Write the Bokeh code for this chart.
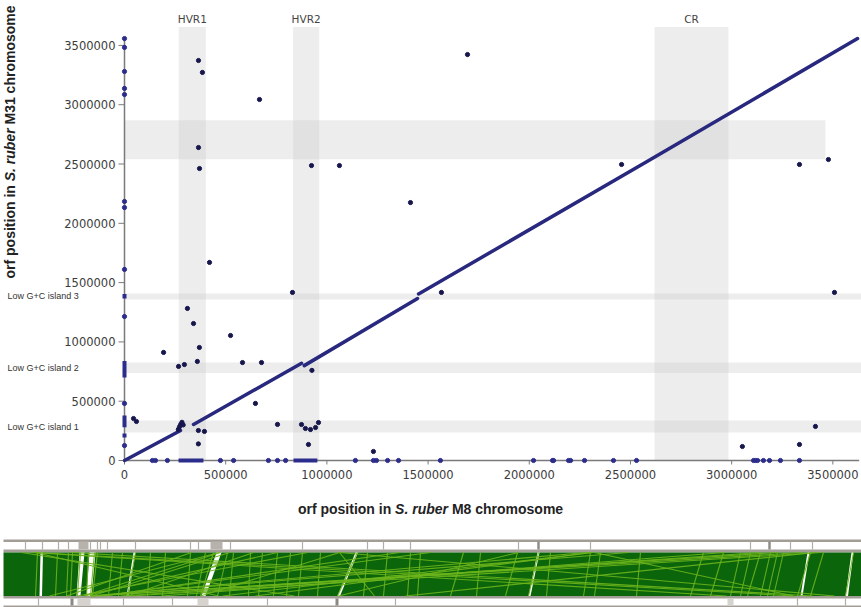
from bokeh.plotting import figure
from bokeh.models import Range1d, Label
from bokeh.core.properties import value
from bokeh.layouts import column
from bokeh.embed import file_html
from bokeh.resources import INLINE

# ---------------- dot plot data ----------------
tick_values = [0, 500000, 1000000, 1500000, 2000000, 2500000, 3000000, 3500000]
tick_labels = ["0", "500000", "1000000", "1500000", "2000000", "2500000", "3000000", "3500000"]
x_axis_end = 3630000
y_axis_end = 3560000

# collinear ORFs (main diagonal), runs
diag_xs = [[0, 277000], [341000, 875000], [888000, 1448000], [1453000, 2599000, 3622000]]
diag_ys = [[0, 253000], [304000, 820000], [800000, 1366000], [1404000, 2538000, 3558000]]

# off-diagonal ORF pairs
off_x = [365600, 385000, 667000, 365600, 370600, 1694800, 924000, 1062000, 1413000, 420000,
         830000, 1566000, 311000, 341000, 524000, 370000, 193000, 267000, 296000, 360000,
         583000, 677000, 647000, 756000, 44500, 59000, 365000, 395000, 365000, 909000,
         1230000, 2456000, 3335000, 3478000, 3508000, 3053000, 3335000, 3414000,
         266000, 272000, 278000, 284000, 290000,
         874600, 894000, 919000, 944000, 958500, 926000]
off_y = [3372800, 3272000, 3044000, 2639000, 2462000, 3423000, 2487000, 2487000, 2175000, 1670000,
         1417000, 1417000, 1282000, 1155000, 1054000, 953000, 911000, 793000, 809000, 835000,
         826000, 826000, 481000, 304000, 354000, 329000, 253000, 245000, 140000, 135000,
         76000, 2496000, 2496000, 2538000, 1417000, 118000, 135000, 287000,
         262000, 285000, 305000, 322000, 300000,
         303500, 270000, 261000, 278000, 320000, 760000]

# ORFs without partner plotted on the axes
xrow_x = [138000, 153000, 212000, 474000, 539000, 711000, 756000, 796000, 1141000, 1230000,
          1245000, 1300000, 1354000, 1561000, 2021000, 2115000, 2120000, 2194000, 2204000,
          2273000, 2416000, 2530000, 3108000, 3118000, 3128000, 3157000, 3187000, 3241000, 3335000]
xrow_runs_x0 = [267000, 835000]
xrow_runs_x1 = [390000, 953000]
ycol_y = [3558000, 3483000, 3280000, 3137000, 3086000, 2184000, 2133000, 1611000, 1214000,
          481000, 126000]
ycol_runs_y0 = [1366000, 700000, 280000, 194000]
ycol_runs_y1 = [1404000, 840000, 380000, 228000]

# shaded regions
vband_names = ["HVR1", "HVR2", "CR"]
vband_x0 = [268000, 833000, 2619000]
vband_x1 = [402000, 962000, 2984000]
vband_top = [3655000, 3655000, 3655000]
hband_names = ["", "Low G+C island 3", "Low G+C island 2", "Low G+C island 1"]
hband_y0 = [2540000, 1358000, 738000, 236000]
hband_y1 = [2870000, 1408000, 826000, 337000]
hband_x1 = [3463000, 3700000, 3700000, 3700000]

# ---------------- synteny strip data (strip positions) ----------------
strip_top_thin = [25, 42, 58, 68, 90, 97, 100, 107, 135, 190, 198, 230, 302, 367, 383, 410,
                  518, 590, 750, 790, 812]
strip_top_thick = [538, 769]
strip_top_block_x0 = [78, 210]
strip_top_block_x1 = [88, 222]
strip_bot_thin = [38, 123, 172, 267, 395, 797, 845]
strip_bot_thick = [71.5, 336.5]
strip_bot_block_x0 = [77, 197, 727]
strip_bot_block_x1 = [90, 208, 733]

gap_top_l = [40, 79, 89, 133, 216, 355, 537, 807, 851]
gap_top_r = [42.5, 84, 95, 135, 221, 357.5, 539, 809, 853]
gap_bot_l = [39, 76, 86, 126, 201, 337, 528, 800, 845]
gap_bot_r = [41.5, 80, 91, 128, 205, 339.5, 530, 802, 847.5]

link_top = [802, 778, 724, 628, 586, 814, 592, 592, 518, 399, 339, 307, 277, 253, 229, 219, 191,
            31, 35, 71, 339, 594, 339, 21, 35, 430, 220, 760, 820,
            37, 57, 68, 72, 80, 88, 94, 97, 112, 122, 135, 150, 165, 190, 205, 213, 227, 233,
            250, 262, 277, 290, 302, 320, 357, 367, 387, 410, 420, 463, 480, 517, 538, 550,
            590, 600, 640, 703, 723, 740, 750, 760, 770, 777, 783, 810, 823, 853]
link_bot = [90, 94, 161, 90, 91, 405, 222, 255, 338, 103, 200, 77, 84, 127, 91, 49, 66,
            726, 793, 812, 834, 793, 374, 294, 218, 100, 83, 120, 130,
            35, 55, 66, 70, 77, 86, 90, 92, 108, 118, 127, 147, 162, 187, 196, 200, 217, 229,
            248, 258, 273, 286, 298, 317, 337, 363, 383, 407, 417, 450, 476, 505, 528, 546,
            583, 594, 636, 690, 710, 730, 740, 747, 760, 767, 773, 797, 810, 845]

# ---------------- main dot plot ----------------
XU = 4941.0   # data units per pixel, x
YU = 8432.0   # data units per pixel, y
W, H1, H2 = 861, 539, 68

p = figure(width=W, height=H1, x_range=Range1d(-124 * XU, (W - 124) * XU),
           y_range=Range1d(-(H1 - 460) * YU, 460 * YU), output_backend="svg",
           toolbar_location=None, min_border=0, x_axis_location=None, y_axis_location=None)
p.outline_line_color = None
p.xgrid.grid_line_color = None
p.ygrid.grid_line_color = None

band_fill = "#c8c8c8"
p.quad(left=vband_x0, right=vband_x1, bottom=[0, 0, 0], top=vband_top,
       fill_color=band_fill, fill_alpha=0.32, line_color=None)
p.quad(left=[0, 0, 0, 0], right=hband_x1, bottom=hband_y0, top=hband_y1,
       fill_color=band_fill, fill_alpha=0.32, line_color=None)

# axes drawn from the tick lists
axis_col = "#7a7a7a"
p.segment(x0=[0, 0], y0=[0, 0], x1=[x_axis_end, 0], y1=[0, y_axis_end],
          line_color=axis_col, line_width=1.5)
p.segment(x0=tick_values, y0=[0] * len(tick_values), x1=tick_values,
          y1=[-4 * YU] * len(tick_values), line_color=axis_col, line_width=1)
p.segment(x0=[0] * len(tick_values), y0=tick_values, x1=[-6 * XU] * len(tick_values),
          y1=tick_values, line_color=axis_col, line_width=1)
p.text(x=tick_values, y=[-14 * YU] * len(tick_values), text=tick_labels, text_align="center",
       text_baseline="middle", text_font=value("DejaVu Sans"), text_font_size="11.5px",
       text_color="#3c3c3c")
p.text(x=[-9 * XU] * len(tick_values), y=tick_values, text=tick_labels, text_align="right",
       text_baseline="middle", text_font=value("DejaVu Sans"), text_font_size="11.5px",
       text_color="#3c3c3c")

p.multi_line(diag_xs, diag_ys, line_color="#28287e", line_width=3.5, line_cap="round")
p.segment(x0=xrow_runs_x0, y0=[0, 0], x1=xrow_runs_x1, y1=[0, 0],
          line_color="#2c2c8c", line_width=4)
p.segment(x0=[0, 0, 0, 0], y0=ycol_runs_y0, x1=[0, 0, 0, 0], y1=ycol_runs_y1,
          line_color="#2c2c8c", line_width=4)
p.scatter(xrow_x, [0] * len(xrow_x), size=4.2, color="#2c2c8c")
p.scatter([0] * len(ycol_y), ycol_y, size=4.2, color="#2c2c8c")
p.scatter(off_x, off_y, size=4.2, color="#16164c")

for name, a, b in zip(vband_names, vband_x0, vband_x1):
    p.add_layout(Label(x=(a + b) / 2, y=442 * YU, text=name, text_align="center",
                       text_baseline="middle", text_font="DejaVu Sans",
                       text_font_size="10.5px", text_color="#444444"))
for name, a, b in zip(hband_names, hband_y0, hband_y1):
    if name:
        p.add_layout(Label(x=-117 * XU, y=(a + b) / 2, text=name, text_align="left",
                           text_baseline="middle", text_font="Liberation Sans",
                           text_font_size="9px", text_color="#333333"))

# axis titles (mixed bold / bold italic)
title_font = "Liberation Sans"
for txt, px, style in [("orf position in", 297.4, "bold"), ("S. ruber", 394.6, "bold italic"),
                       ("M8 chromosome", 451.4, "bold")]:
    p.add_layout(Label(x=(px - 124) * XU, y=-48.5 * YU, text=txt, text_align="left",
                       text_baseline="middle", text_font=title_font, text_font_size="14px",
                       text_font_style=style, text_color="#222222"))
for txt, py, style in [("orf position in", 278.0, "bold"), ("S. ruber", 180.8, "bold italic"),
                       ("M31 chromosome", 124.0, "bold")]:
    p.add_layout(Label(x=-115 * XU, y=(460 - py) * YU, text=txt, angle=1.5707963,
                       text_align="left", text_baseline="middle", text_font=title_font,
                       text_font_size="14px", text_font_style=style, text_color="#222222"))

# ---------------- synteny strip ----------------
s = figure(width=W, height=H2, x_range=Range1d(0, W), y_range=Range1d(0, H2),
           output_backend="svg", toolbar_location=None, min_border=0,
           x_axis_location=None, y_axis_location=None)
s.outline_line_color = None
s.xgrid.grid_line_color = None
s.ygrid.grid_line_color = None

gray = "#a39d97"
s.quad(left=[3] * 4, right=[861] * 4, bottom=[65.5, 55, 9, 0], top=[68.5, 58, 11.5, 2],
       fill_color=gray, line_color=None)
s.segment(x0=strip_top_thin, y0=[58] * len(strip_top_thin), x1=strip_top_thin,
          y1=[66] * len(strip_top_thin), line_color="#b3ada7", line_width=1.2)
s.segment(x0=strip_top_thick, y0=[58] * 2, x1=strip_top_thick, y1=[66] * 2,
          line_color="#928c86", line_width=2.5)
s.quad(left=strip_top_block_x0, right=strip_top_block_x1, bottom=[58] * 2, top=[66] * 2,
       fill_color="#b8b2ac", line_color=None)
s.segment(x0=strip_bot_thin, y0=[2] * len(strip_bot_thin), x1=strip_bot_thin,
          y1=[9] * len(strip_bot_thin), line_color="#b3ada7", line_width=1.2)
s.segment(x0=strip_bot_thick, y0=[2] * 2, x1=strip_bot_thick, y1=[9] * 2,
          line_color="#8e8882", line_width=3)
s.quad(left=strip_bot_block_x0, right=strip_bot_block_x1, bottom=[2] * 3, top=[9] * 3,
       fill_color="#d6d2ce", line_color=None)

s.quad(left=[3], right=[861], bottom=[11.5], top=[55], fill_color="#0b660b", line_color=None)
s.patches(xs=[[a, b, c, d] for a, b, c, d in zip(gap_top_l, gap_top_r, gap_bot_r, gap_bot_l)],
          ys=[[55, 55, 11.5, 11.5]] * len(gap_top_l), fill_color="white", line_color=None)
s.segment(x0=link_top, y0=[55] * len(link_top), x1=link_bot, y1=[11.5] * len(link_bot),
          line_color="#6cb41c", line_width=1.1, line_alpha=0.9)

layout = column(p, s, spacing=0)
open("out.html", "w").write(file_html(layout, INLINE, title="dot plot"))
